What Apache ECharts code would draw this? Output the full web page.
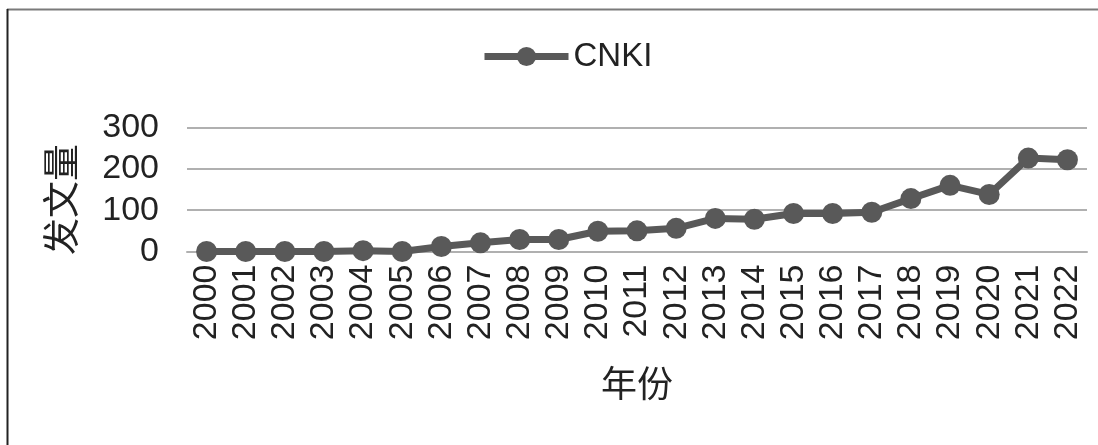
<!DOCTYPE html>
<html>
<head>
<meta charset="utf-8">
<script src="https://cdn.jsdelivr.net/npm/echarts@6/dist/echarts.min.js"></script>
<style>
  html, body { margin: 0; padding: 0; background: #fff; }
  #chart { width: 1098px; height: 445px; }
</style>
</head>
<body>
<div id="chart"></div>
<script>
// Publication counts per year (CNKI)
const years = ['2000','2001','2002','2003','2004','2005','2006','2007','2008','2009','2010',
               '2011','2012','2013','2014','2015','2016','2017','2018','2019','2020','2021','2022'];
const cnkiCounts = [0, 0, 0, 0, 2, 0, 12, 21, 29, 29, 49, 50, 56, 80, 78, 92, 92, 95, 128, 160, 138, 226, 222];
const yTicks = { min: 0, max: 300, interval: 100 };

const FONT = '"Liberation Sans", Arial, "Noto Sans CJK SC", sans-serif';
const CJK = '"Noto Sans CJK SC", sans-serif';
const LINE = '#595959';
const GRID = '#b0b0b0';

const chart = echarts.init(document.getElementById('chart'), null, { renderer: 'canvas' });
chart.setOption({
  backgroundColor: '#fff',
  animation: false,
  graphic: [
    // frame: top edge and left edge
    { type: 'line', shape: { x1: 7, y1: 9.5, x2: 1098, y2: 9.5 }, style: { stroke: '#7a7a7a', lineWidth: 2 } },
    { type: 'line', shape: { x1: 7.5, y1: 9, x2: 7.5, y2: 445 }, style: { stroke: '#222', lineWidth: 2 } }
  ],
  legend: {
    left: 481,
    top: 40,
    padding: 0,
    itemWidth: 84,
    itemHeight: 24,
    itemGap: 2,
    lineStyle: { width: 7 },
    textStyle: { fontFamily: FONT, fontSize: 33, color: '#222', padding: [0, 0, 0, 0] },
    data: ['CNKI']
  },
  grid: { left: 187, right: 11, top: 127.5, bottom: 193.5, containLabel: false },
  xAxis: {
    type: 'category',
    data: years,
    boundaryGap: true,
    name: '年份',
    nameLocation: 'middle',
    nameGap: 114,
    nameTextStyle: { fontFamily: CJK, fontSize: 36, color: '#222' },
    axisLine: { lineStyle: { color: GRID, width: 2 } },
    axisTick: { show: false },
    axisLabel: { rotate: 90, interval: 0, margin: 13, fontFamily: FONT, fontSize: 34, color: '#222' }
  },
  yAxis: {
    type: 'value',
    min: yTicks.min,
    max: yTicks.max,
    interval: yTicks.interval,
    name: '发文量',
    nameLocation: 'middle',
    nameGap: 108,
    nameRotate: 90,
    nameTextStyle: { fontFamily: CJK, fontSize: 37, color: '#222', padding: [0, 20, 0, 0] },
    axisLine: { show: false },
    axisTick: { show: false },
    splitLine: { lineStyle: { color: GRID, width: 2 } },
    axisLabel: { margin: 28, fontFamily: FONT, fontSize: 34, color: '#222' }
  },
  series: [{
    name: 'CNKI',
    type: 'line',
    data: cnkiCounts,
    symbol: 'circle',
    symbolSize: 21,
    lineStyle: { color: LINE, width: 7 },
    itemStyle: { color: LINE }
  }]
});
</script>
</body>
</html>
